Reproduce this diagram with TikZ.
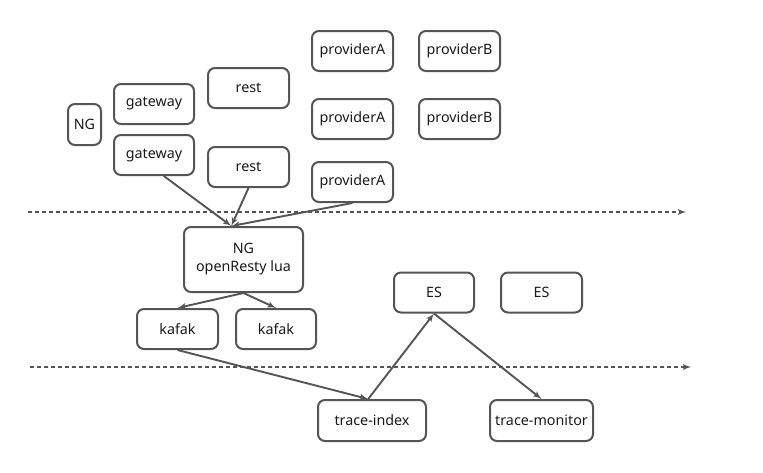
\documentclass[tikz,border=0pt]{standalone}
\usepackage{fontspec}
\setmainfont{Noto Sans}
\usepackage{tikz}
\usetikzlibrary{arrows}

\definecolor{linegray}{HTML}{555555}
\definecolor{textgray}{HTML}{1A1A1A}

\begin{document}
\begin{tikzpicture}[x = 1pt, y = -1pt,
    box/.style = {draw = linegray, line width = 2pt, rounded corners = 7pt,
        inner sep = 0, text = textgray, font = \fontsize{14.3}{18}\selectfont,
        align = center},
    link/.style = {-latex', draw = linegray, line width = 1.9pt},
    border/.style = {-latex', draw = linegray, line width = 1.8pt, dash pattern = on 4pt off 3pt}]
    \useasboundingbox (0, 0) rectangle (763, 472);

    %% upper layer
    \node[box, minimum width = 33, minimum height = 41] (ngedge) at (84.5, 124.5) {NG};
    \node[box, minimum width = 80, minimum height = 40] (gwa) at (154, 104) {gateway};
    \node[box, minimum width = 80, minimum height = 40] (gwb) at (154, 155) {gateway};
    \node[box, minimum width = 81, minimum height = 40] (resta) at (248.5, 88) {rest};
    \node[box, minimum width = 81, minimum height = 40] (restb) at (248.5, 167) {rest};
    \node[box, minimum width = 81, minimum height = 40] (pa1) at (352.5, 51) {providerA};
    \node[box, minimum width = 81, minimum height = 40] (pb1) at (459.5, 51) {providerB};
    \node[box, minimum width = 81, minimum height = 40] (pa2) at (352.5, 119) {providerA};
    \node[box, minimum width = 81, minimum height = 40] (pb2) at (459.5, 119) {providerB};
    \node[box, minimum width = 81, minimum height = 40] (pa3) at (352.5, 182) {providerA};

    %% borders
    \coordinate (bordera) at (28, 212);
    \coordinate (borderaend) at (686, 212);
    \draw[border] (bordera) -- (borderaend);
    \coordinate (borderb) at (30, 367);
    \coordinate (borderbend) at (691, 367);
    \draw[border] (borderb) -- (borderbend);

    %% collector
    \node[box, minimum width = 119, minimum height = 65] (ngcol) at (243.5, 259.5)
        {NG\\[0pt]openResty lua};
    \node[box, minimum width = 81, minimum height = 40] (kfa) at (177.5, 329) {kafak};
    \node[box, minimum width = 80, minimum height = 40] (kfb) at (276, 329) {kafak};

    %% storage
    \node[box, minimum width = 80, minimum height = 40] (esa) at (434, 292.5) {ES};
    \node[box, minimum width = 81, minimum height = 40] (esb) at (541.5, 292.5) {ES};
    \node[box, minimum width = 108, minimum height = 41] (tidx) at (372, 420.5) {trace-index};
    \node[box, minimum width = 103, minimum height = 41] (tmon) at (541.5, 420.5) {trace-monitor};

    %% links
    \draw[link] (gwb.295) -- (ngcol.110);
    \draw[link] (restb.south) -- (ngcol.110);
    \draw[link] (pa3.south) -- (ngcol.110);
    \draw[link] (ngcol.south) -- (kfa.north);
    \draw[link] (ngcol.south) -- (kfb.north);
    \draw[link] (kfa.south) -- (tidx.100);
    \draw[link] (tidx.100) -- (esa.south);
    \draw[link] (esa.south) -- (tmon.north);
\end{tikzpicture}
\end{document}
